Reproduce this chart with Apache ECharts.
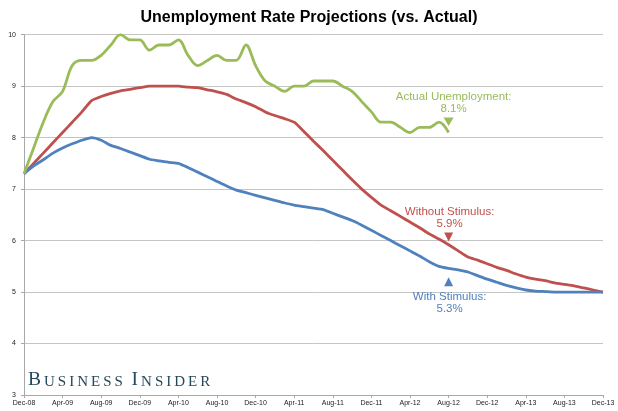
<!DOCTYPE html>
<html>
<head>
<meta charset="utf-8">
<script src="https://cdn.jsdelivr.net/npm/echarts@6/dist/echarts.min.js"></script>
<style>
html,body{margin:0;padding:0;background:#fff;}
#chart{width:618px;height:411px;}
</style>
</head>
<body>
<div id="chart"></div>
<script>
// ---- Data ----
const months = ['Dec-08','Jan-09','Feb-09','Mar-09','Apr-09','May-09','Jun-09','Jul-09','Aug-09','Sep-09','Oct-09','Nov-09',
  'Dec-09','Jan-10','Feb-10','Mar-10','Apr-10','May-10','Jun-10','Jul-10','Aug-10','Sep-10','Oct-10','Nov-10',
  'Dec-10','Jan-11','Feb-11','Mar-11','Apr-11','May-11','Jun-11','Jul-11','Aug-11','Sep-11','Oct-11','Nov-11',
  'Dec-11','Jan-12','Feb-12','Mar-12','Apr-12','May-12','Jun-12','Jul-12','Aug-12','Sep-12','Oct-12','Nov-12',
  'Dec-12','Jan-13','Feb-13','Mar-13','Apr-13','May-13','Jun-13','Jul-13','Aug-13','Sep-13','Oct-13','Nov-13','Dec-13'];

const actual = [7.3,7.8,8.3,8.7,8.9,9.4,9.5,9.5,9.6,9.8,10.0,9.9,
  9.9,9.7,9.8,9.8,9.9,9.6,9.4,9.5,9.6,9.5,9.5,9.8,
  9.4,9.1,9.0,8.9,9.0,9.0,9.1,9.1,9.1,9.0,8.9,8.7,
  8.5,8.3,8.3,8.2,8.1,8.2,8.2,8.3,8.1];

const withoutStimulus = [7.3,7.5,7.7,7.9,8.1,8.3,8.5,8.72,8.8,8.86,8.91,8.94,
  8.97,9.0,9.0,9.0,9.0,8.98,8.97,8.93,8.89,8.84,8.75,8.68,
  8.6,8.5,8.43,8.37,8.3,8.12,7.93,7.75,7.56,7.37,7.18,7.0,
  6.84,6.69,6.58,6.47,6.36,6.25,6.13,6.03,5.92,5.8,5.68,5.62,
  5.55,5.48,5.42,5.35,5.29,5.25,5.22,5.18,5.15,5.12,5.08,5.04,5.0];

const withStimulus = [7.3,7.45,7.57,7.7,7.8,7.88,7.95,8.0,7.95,7.85,7.79,7.72,
  7.65,7.58,7.55,7.52,7.5,7.42,7.33,7.24,7.15,7.06,6.98,6.93,
  6.88,6.83,6.78,6.73,6.69,6.66,6.63,6.6,6.53,6.46,6.39,6.3,
  6.2,6.1,6.0,5.9,5.8,5.7,5.59,5.5,5.46,5.43,5.39,5.32,
  5.25,5.19,5.13,5.08,5.04,5.02,5.01,5.0,5.0,5.0,5.0,5.0,5.0];

const yTicks = [3,4,5,6,7,8,9,10];

// annotations
const annotTitles = ['Actual Unemployment:','Without Stimulus:','With Stimulus:'];
const annotValues = [8.1, 5.9, 5.3];
const annotMonth = 'Aug-12';
const annotMarkerY = [8.31, 6.07, 5.2];

const colors = ['#9bbb59','#c0504d','#4f81bd'];
const downTri = 'path://M0,0L10,0L5,9Z';
const upTri = 'path://M5,0L10,9L0,9Z';

function mark(i, symbol, size, pos, dist, offset){
  return {
    symbol: symbol, symbolSize: size, silent: true,
    itemStyle: {color: colors[i]},
    label: {
      show: true, position: pos, distance: dist, offset: offset,
      color: colors[i], fontSize: 11.5, lineHeight: 12.6,
      fontFamily: 'Liberation Sans, Arial, sans-serif', align: 'center',
      formatter: annotTitles[i] + '\n' + annotValues[i].toFixed(1) + '%'
    },
    data: [{coord: [annotMonth, annotMarkerY[i]]}]
  };
}

// logo text built as small caps
const logo = 'Business Insider';
let logoText = '';
for (let k = 0; k < logo.length; k++) {
  const ch = logo[k];
  const last = k === logo.length - 1;
  if (ch === ' ') { logoText += '{sp| }'; continue; }
  const big = ch === ch.toUpperCase();
  logoText += '{' + (big ? 'b' : 's') + (last ? 'l' : '') + '|' + ch.toUpperCase() + '}';
}
const logoColor = '#24495c';
const serif = 'Liberation Serif, Times New Roman, serif';

const chart = echarts.init(document.getElementById('chart'), null, {renderer: 'canvas'});
chart.setOption({
  animation: false,
  backgroundColor: '#fff',
  grid: {left: 24, right: 15, top: 34.7, bottom: 16, containLabel: false, outerBoundsMode: 'none'},
  graphic: [
    {type: 'text', x: 309, y: 18, style: {
      text: 'Unemployment Rate Projections (vs. Actual)', align: 'center', verticalAlign: 'middle',
      font: 'bold 16px "Liberation Sans", Arial, sans-serif', fill: '#000'}},
    {type: 'text', x: 28, y: 390, style: {
      text: logoText, verticalAlign: 'bottom', fill: logoColor,
      rich: {
        b: {fontFamily: serif, fontSize: 19.5, color: logoColor, padding: [0, 3, 0, 0], verticalAlign: 'bottom'},
        s: {fontFamily: serif, fontSize: 15, color: logoColor, padding: [0, 3, 0, 0], verticalAlign: 'bottom'},
        sl: {fontFamily: serif, fontSize: 15, color: logoColor, verticalAlign: 'bottom'},
        sp: {fontFamily: serif, fontSize: 15, color: logoColor, padding: [0, 2, 0, 0], verticalAlign: 'bottom'}
      }}}
  ],
  xAxis: {
    type: 'category', data: months, boundaryGap: false,
    axisLine: {show: true, lineStyle: {color: '#a8a8a8', width: 1}},
    axisTick: {show: true, interval: 3, length: 3, lineStyle: {color: '#a8a8a8'}},
    axisLabel: {interval: 3, fontSize: 7, color: '#222', margin: 5, fontFamily: 'Liberation Sans, Arial, sans-serif'},
    splitLine: {show: false}
  },
  yAxis: {
    type: 'value', min: yTicks[0], max: yTicks[yTicks.length - 1], interval: 1,
    axisLine: {show: true, lineStyle: {color: '#a8a8a8', width: 1}},
    axisTick: {show: true, length: 3, lineStyle: {color: '#a8a8a8'}},
    axisLabel: {fontSize: 7, color: '#222', margin: 8, fontFamily: 'Liberation Sans, Arial, sans-serif'},
    splitLine: {show: true, lineStyle: {color: '#c4c4c4', width: 1}}
  },
  series: [
    {name: 'Actual', type: 'line', data: actual, smooth: 0.35, showSymbol: false,
     lineStyle: {color: colors[0], width: 2.8}, itemStyle: {color: colors[0]}, z: 3,
     markPoint: mark(0, downTri, [10, 8.5], 'top', 2, [5, 0])},
    {name: 'Without Stimulus', type: 'line', data: withoutStimulus, smooth: 0.15, showSymbol: false,
     lineStyle: {color: colors[1], width: 2.8}, itemStyle: {color: colors[1]}, z: 2,
     markPoint: mark(1, downTri, [9, 9], 'top', 2, [1, 0])},
    {name: 'With Stimulus', type: 'line', data: withStimulus, smooth: 0.15, showSymbol: false,
     lineStyle: {color: colors[2], width: 2.8}, itemStyle: {color: colors[2]}, z: 2,
     markPoint: mark(2, upTri, [9, 9], 'bottom', 4, [1, 0])}
  ]
});
</script>
</body>
</html>
